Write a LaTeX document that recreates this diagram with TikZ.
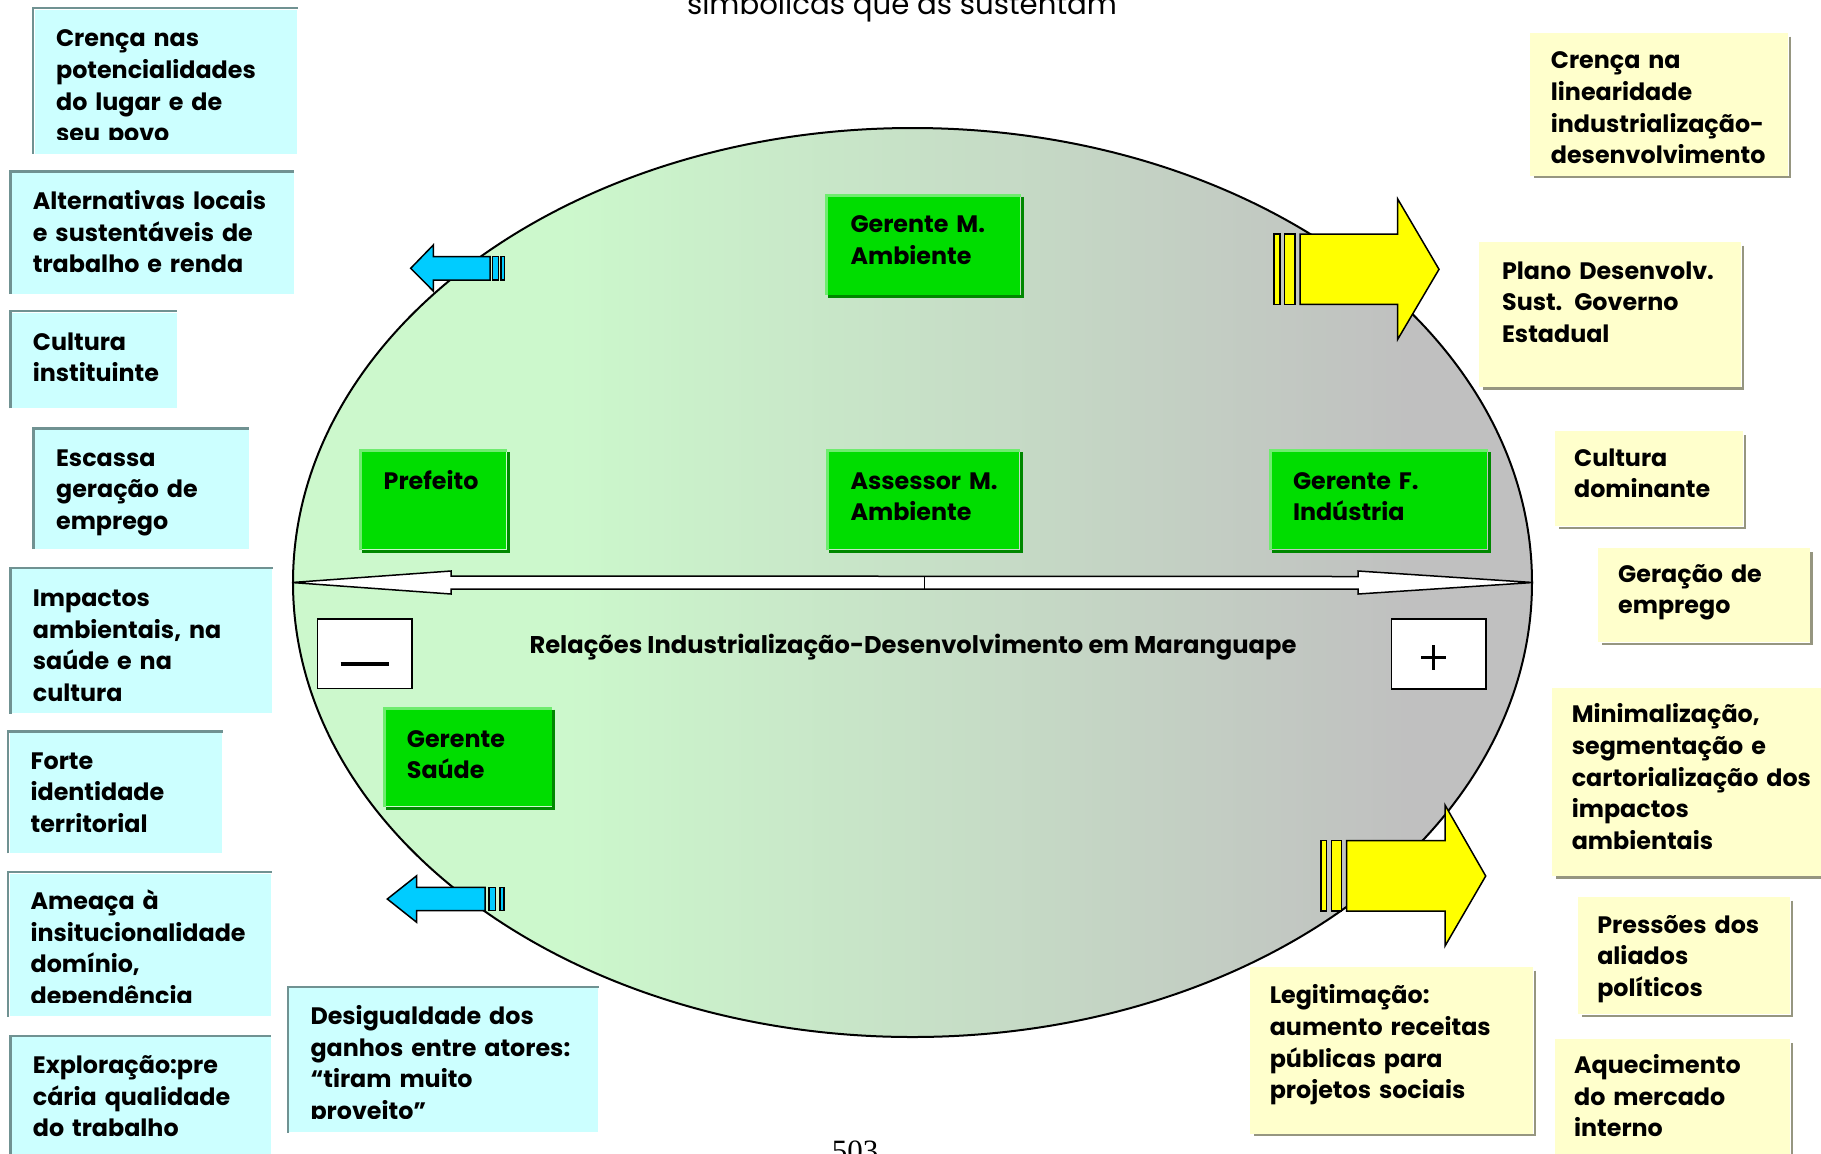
\documentclass[tikz,border=0pt]{standalone}
\usepackage{fontspec}
\setmainfont{Poppins}
\newfontfamily\serifa{Liberation Serif}
\usetikzlibrary{shapes.geometric,calc}
\definecolor{ciano}{RGB}{204,255,255}
\definecolor{cianoborda}{RGB}{112,146,146}
\definecolor{amarelo}{RGB}{255,255,204}
\definecolor{amarelosombra}{RGB}{150,150,128}
\definecolor{verde}{RGB}{0,221,0}
\definecolor{verdeluz}{RGB}{110,236,110}
\definecolor{verdesombra}{RGB}{0,136,0}
\definecolor{azulseta}{RGB}{0,204,255}
\definecolor{amareloseta}{RGB}{255,255,0}
\definecolor{verdeclaro}{RGB}{204,248,204}
\definecolor{cinzaclaro}{RGB}{192,192,192}
\pgfdeclarehorizontalshading{verdecinza}{100bp}{color(0bp)=(verdeclaro); color(36bp)=(verdeclaro); color(70bp)=(cinzaclaro); color(100bp)=(cinzaclaro)}
\begin{document}
\begin{tikzpicture}[x=0.5pt,y=-0.5pt,
    caixaciano/.style={fill=ciano, inner sep=0pt, anchor=north west},
    bordaciano/.style={draw=cianoborda, line width=1.25pt},
    caixaamarela/.style={fill=amarelo, inner sep=0pt, anchor=north west},
    sombraamarela/.style={draw=amarelosombra, line width=1.25pt},
    caixaverde/.style={fill=verde, inner sep=0pt, anchor=north west},
    luzverde/.style={draw=verdeluz, line width=1.5pt},
    sombraverde/.style={draw=verdesombra, line width=1.5pt},
    texto/.style={font=\bfseries\fontsize{11.9}{15.8}\selectfont, align=left, text width=9cm, inner sep=0pt, anchor=base west},
    setaazul/.style={draw=black, fill=azulseta, line width=0.75pt, line join=miter},
    setaamarela/.style={draw=black, fill=amareloseta, line width=0.75pt, line join=miter},
    sinal/.style={draw=black, fill=white, line width=0.75pt, inner sep=0pt, anchor=north west}]
  \useasboundingbox (0,0) rectangle (1821,1153);
  \node[anchor=base, font=\fontsize{14.6}{17}\selectfont] (titulo) at (902,14.5) {simbólicas que as sustentam};
  \node[ellipse, draw=black, line width=1pt, shade, shading=verdecinza, minimum width=619.5pt, minimum height=454.5pt, inner sep=0pt] (elipse) at (912.5,582.5) {};
  \draw[fill=white, draw=black, line width=0.75pt, line join=miter] (elipse.west) -- ++(159,-11.5) -- ++(0,5) -- ($(elipse.east)+(-175,-6)$) -- ++(0,-5.5) -- (elipse.east) -- ++(-175,11.5) -- ++(0,-5) -- ($(elipse.west)+(159,6.5)$) -- ++(0,5) -- cycle;
  \draw[line width=0.75pt] ($(elipse.center)+(12,-6)$) -- ++(0,12.5);
  \node[sinal, minimum width=47.15pt, minimum height=34.85pt] (menos) at (316.7,618) {};
  \draw[line width=2pt] ($(menos.center)+(-24,10)$) -- ++(48,0);
  \node[sinal, minimum width=47.15pt, minimum height=35pt] (mais) at (1390.7,618.3) {};
  \draw[line width=1.5pt] ($(mais.center)+(-17.5,3.5)$) -- ++(25,0);
  \draw[line width=1.5pt] ($(mais.center)+(-5,-9)$) -- ++(0,25);
  \node[font=\bfseries\fontsize{12.1}{15}\selectfont, anchor=base] (relacoes) at (913,653) {Relações Industrialização-Desenvolvimento em Maranguape};
  \draw[setaazul] (410.7,268.3) -- (433.3,245) -- (433.3,256.7) -- (490,256.7) -- (490,280) -- (433.3,280) -- (433.3,291) -- cycle;
  \draw[setaazul] (492.3,256.7) rectangle (498.3,280);
  \draw[setaazul] (501,256.7) rectangle (504.3,280);
  \draw[setaazul] (387.3,899) -- (416.7,875.7) -- (416.7,887.3) -- (485,887.3) -- (485,910.7) -- (416.7,910.7) -- (416.7,922.3) -- cycle;
  \draw[setaazul] (489,887.3) rectangle (495.7,910.7);
  \draw[setaazul] (500,887.3) rectangle (504,910.7);
  \draw[setaamarela] (1274,234) rectangle (1280,304.3);
  \draw[setaamarela] (1284.3,234) rectangle (1295,304.3);
  \draw[setaamarela] (1300,234) -- (1397.7,234) -- (1397.7,199) -- (1439,269.3) -- (1397.7,339.3) -- (1397.7,304.3) -- (1300,304.3) -- cycle;
  \draw[setaamarela] (1321,840.7) rectangle (1326.7,911);
  \draw[setaamarela] (1331.7,840.7) rectangle (1341.7,911);
  \draw[setaamarela] (1346.7,840.7) -- (1445,840.7) -- (1445,805) -- (1485.7,876) -- (1445,946) -- (1445,911) -- (1346.7,911) -- cycle;

  \node[caixaciano, minimum width=131.2pt, minimum height=71.9pt] (potenc) at (34.3,9.3) {};
  \draw[bordaciano] ([xshift=-0.6pt]potenc.south west) |- ([yshift=0.6pt]potenc.north east);
  \begin{scope}
    \clip (potenc.north west) rectangle ($(potenc.south east)+(0,-14)$);
    \node[texto] (potenct) at (55.7,46.8) {Crença nas\\potencialidades\\do lugar e de\\seu povo};
  \end{scope}
  \node[caixaciano, minimum width=140.8pt, minimum height=60.3pt] (alternat) at (11.7,172.7) {};
  \draw[bordaciano] ([xshift=-0.6pt]alternat.south west) |- ([yshift=0.6pt]alternat.north east);
  \node[texto] (alternatt) at (32.5,209.4) {Alternativas locais\\e sustentáveis de\\trabalho e renda};
  \node[caixaciano, minimum width=82.5pt, minimum height=47.6pt] (culinst) at (11.6,312.4) {};
  \draw[bordaciano] ([xshift=-0.6pt]culinst.south west) |- ([yshift=0.6pt]culinst.north east);
  \node[texto] (culinstt) at (32.5,350) {Cultura\\instituinte};
  \node[caixaciano, minimum width=106.9pt, minimum height=59.3pt] (escassa) at (34.8,429.7) {};
  \draw[bordaciano] ([xshift=-0.6pt]escassa.south west) |- ([yshift=0.6pt]escassa.north east);
  \node[texto] (escassat) at (55.7,466.1) {Escassa\\geração de\\emprego};
  \node[caixaciano, minimum width=130.1pt, minimum height=72pt] (impactos) at (11.6,569) {};
  \draw[bordaciano] ([xshift=-0.6pt]impactos.south west) |- ([yshift=0.6pt]impactos.north east);
  \node[texto] (impactost) at (32.5,606.6) {Impactos\\ambientais, na\\saúde e na\\cultura};
  \node[caixaciano, minimum width=106.3pt, minimum height=59.9pt] (identid) at (9.3,732.8) {};
  \draw[bordaciano] ([xshift=-0.6pt]identid.south west) |- ([yshift=0.6pt]identid.north east);
  \node[texto] (identidt) at (30.2,769.2) {Forte\\identidade\\territorial};
  \node[caixaciano, minimum width=130.7pt, minimum height=71.3pt] (ameaca) at (9.3,873.4) {};
  \draw[bordaciano] ([xshift=-0.6pt]ameaca.south west) |- ([yshift=0.6pt]ameaca.north east);
  \begin{scope}
    \clip (ameaca.north west) rectangle ($(ameaca.south east)+(0,-14)$);
    \node[texto] (ameacat) at (30.2,909.7) {Ameaça à\\insitucionalidade\\domínio,\\dependência};
  \end{scope}
  \node[caixaciano, minimum width=129.5pt, minimum height=66.5pt] (explor) at (11.6,1037) {};
  \draw[bordaciano] ([xshift=-0.6pt]explor.south west) |- ([yshift=0.6pt]explor.north east);
  \node[texto] (explort) at (32.5,1073.5) {Exploração:pre\\cária qualidade\\do trabalho};
  \node[caixaciano, minimum width=154.5pt, minimum height=72pt] (desig) at (289,988) {};
  \draw[bordaciano] ([xshift=-0.6pt]desig.south west) |- ([yshift=0.6pt]desig.north east);
  \begin{scope}
    \clip (desig.north west) rectangle ($(desig.south east)+(0,-14)$);
    \node[texto] (desigt) at (310.1,1024.7) {Desigualdade dos\\ganhos entre atores:\\“tiram muito\\proveito”};
  \end{scope}

  \node[caixaamarela, minimum width=129pt, minimum height=71.2pt] (linear) at (1530,32.7) {};
  \draw[sombraamarela] ([xshift=0.6pt,yshift=-2pt]linear.north east) |- ([xshift=2pt,yshift=-0.6pt]linear.south west);
  \node[texto] (lineart) at (1550.5,68.9) {Crença na\\linearidade\\industrialização-\\desenvolvimento};
  \node[caixaamarela, minimum width=131pt, minimum height=72.5pt] (plano) at (1479,241.7) {};
  \draw[sombraamarela] ([xshift=0.6pt,yshift=-2pt]plano.north east) |- ([xshift=2pt,yshift=-0.6pt]plano.south west);
  \node[texto] (planot) at (1501.7,279.1) {Plano Desenvolv.\\Sust. Governo\\Estadual};
  \node[caixaamarela, minimum width=94pt, minimum height=47.5pt] (culdom) at (1555,431) {};
  \draw[sombraamarela] ([xshift=0.6pt,yshift=-2pt]culdom.north east) |- ([xshift=2pt,yshift=-0.6pt]culdom.south west);
  \node[texto] (culdomt) at (1573.7,466.1) {Cultura\\dominante};
  \node[caixaamarela, minimum width=105.8pt, minimum height=47pt] (geracao) at (1598,548) {};
  \draw[sombraamarela] ([xshift=0.6pt,yshift=-2pt]geracao.north east) |- ([xshift=2pt,yshift=-0.6pt]geracao.south west);
  \node[texto] (geracaot) at (1617.8,582.2) {Geração de\\emprego};
  \node[caixaamarela, minimum width=139pt, minimum height=94.1pt] (minimal) at (1551.6,687.5) {};
  \draw[sombraamarela] ([xshift=0.6pt,yshift=-2pt]minimal.north east) |- ([xshift=2pt,yshift=-0.6pt]minimal.south west);
  \node[texto] (minimalt) at (1571.4,722.8) {Minimalização,\\segmentação e\\cartorialização dos\\impactos\\ambientais};
  \node[caixaamarela, minimum width=106pt, minimum height=58.7pt] (pressoes) at (1578,896.6) {};
  \draw[sombraamarela] ([xshift=0.6pt,yshift=-2pt]pressoes.north east) |- ([xshift=2pt,yshift=-0.6pt]pressoes.south west);
  \node[texto] (pressoest) at (1596.9,933) {Pressões dos\\aliados\\políticos};
  \node[caixaamarela, minimum width=141.5pt, minimum height=83.2pt] (legitim) at (1250,966.7) {};
  \draw[sombraamarela] ([xshift=0.6pt,yshift=-2pt]legitim.north east) |- ([xshift=2pt,yshift=-0.6pt]legitim.south west);
  \node[texto] (legitimt) at (1269.4,1003.8) {Legitimação:\\aumento receitas\\públicas para\\projetos sociais};
  \node[caixaamarela, minimum width=117.5pt, minimum height=65.5pt] (aquec) at (1555,1039) {};
  \draw[sombraamarela] ([xshift=0.6pt,yshift=-2pt]aquec.north east) |- ([xshift=2pt,yshift=-0.6pt]aquec.south west);
  \node[texto] (aquect) at (1573.7,1073.5) {Aquecimento\\do mercado\\interno};

  \node[caixaverde, minimum width=96pt, minimum height=48.7pt] (germa) at (828,196.7) {};
  \draw[luzverde] ([xshift=-0.75pt]germa.south west) |- ([yshift=0.75pt]germa.north east);
  \draw[sombraverde] ([xshift=0.75pt]germa.north east) |- ([yshift=-0.75pt]germa.south west);
  \node[texto] (germat) at (850.1,232.6) {Gerente M.\\Ambiente};
  \node[caixaverde, minimum width=72pt, minimum height=48.5pt] (prefeito) at (362,452) {};
  \draw[luzverde] ([xshift=-0.75pt]prefeito.south west) |- ([yshift=0.75pt]prefeito.north east);
  \draw[sombraverde] ([xshift=0.75pt]prefeito.north east) |- ([yshift=-0.75pt]prefeito.south west);
  \node[texto] (prefeitot) at (383.3,489.3) {Prefeito};
  \node[caixaverde, minimum width=95pt, minimum height=48.5pt] (assessor) at (829,452) {};
  \draw[luzverde] ([xshift=-0.75pt]assessor.south west) |- ([yshift=0.75pt]assessor.north east);
  \draw[sombraverde] ([xshift=0.75pt]assessor.north east) |- ([yshift=-0.75pt]assessor.south west);
  \node[texto] (assessort) at (850.1,489.3) {Assessor M.\\Ambiente};
  \node[caixaverde, minimum width=107.5pt, minimum height=48.5pt] (gerfi) at (1271.7,452) {};
  \draw[luzverde] ([xshift=-0.75pt]gerfi.south west) |- ([yshift=0.75pt]gerfi.north east);
  \draw[sombraverde] ([xshift=0.75pt]gerfi.north east) |- ([yshift=-0.75pt]gerfi.south west);
  \node[texto] (gerfit) at (1292.6,489.3) {Gerente F.\\Indústria};
  \node[caixaverde, minimum width=83pt, minimum height=48.2pt] (gersau) at (385.6,709.6) {};
  \draw[luzverde] ([xshift=-0.75pt]gersau.south west) |- ([yshift=0.75pt]gersau.north east);
  \draw[sombraverde] ([xshift=0.75pt]gersau.north east) |- ([yshift=-0.75pt]gersau.south west);
  \node[texto] (gersaut) at (406.5,747.1) {Gerente\\Saúde};

  \node[anchor=base, font=\serifa\fontsize{15.5}{18}\selectfont] (pagina) at (855,1161) {503};
\end{tikzpicture}
\end{document}
